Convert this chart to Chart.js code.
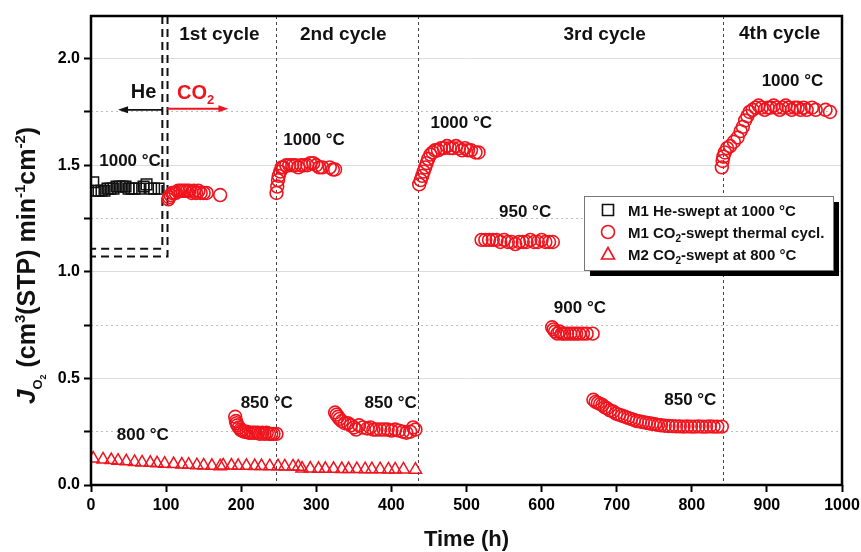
<!DOCTYPE html>
<html>
<head>
<meta charset="utf-8">
<script src="https://cdn.jsdelivr.net/npm/chart.js@4.4.1/dist/chart.umd.min.js"></script>
<style>
  html, body { margin: 0; padding: 0; background: #fff; }
</style>
</head>
<body>
<canvas id="chart" width="861" height="552"></canvas>
<script>
// M1 He-swept at 1000 °C (black squares)
const heTime = [3, 6, 10, 14, 18, 22, 26, 30, 34, 38, 42, 46, 50, 54, 58, 64, 70, 74, 80, 84, 90];
const heFlux = [1.42, 1.38, 1.38, 1.38, 1.38, 1.39, 1.39, 1.39, 1.40, 1.40, 1.40, 1.40, 1.39, 1.39, 1.39, 1.39, 1.40, 1.41, 1.39, 1.39, 1.39];

// M1 CO2-swept thermal cycling (red circles), one pair per stage
const cyc1HotTime = [103, 104, 106, 108, 110, 113, 116, 119, 122, 125, 128, 131, 134, 137, 140, 143, 146, 150, 154, 172];
const cyc1HotFlux = [1.34, 1.35, 1.36, 1.37, 1.37, 1.37, 1.38, 1.38, 1.38, 1.38, 1.38, 1.38, 1.37, 1.38, 1.37, 1.38, 1.37, 1.37, 1.37, 1.36];
const cyc1ColdTime = [192, 193, 194, 195, 197, 199, 201, 204, 207, 210, 213, 216, 219, 222, 225, 228, 231, 234, 237, 240, 243, 247];
const cyc1ColdFlux = [0.32, 0.30, 0.29, 0.28, 0.27, 0.26, 0.255, 0.25, 0.25, 0.245, 0.245, 0.245, 0.245, 0.245, 0.24, 0.245, 0.24, 0.245, 0.24, 0.24, 0.24, 0.24];
const cyc2HotTime = [247, 248, 249, 250, 252, 254, 256, 260, 264, 268, 272, 276, 280, 284, 288, 292, 296, 300, 304, 308, 318, 322, 325];
const cyc2HotFlux = [1.37, 1.40, 1.43, 1.45, 1.47, 1.49, 1.49, 1.50, 1.50, 1.50, 1.50, 1.49, 1.50, 1.50, 1.50, 1.51, 1.51, 1.50, 1.49, 1.49, 1.49, 1.48, 1.48];
const cyc2ColdTime = [325, 327, 329, 331, 334, 338, 342, 346, 350, 353, 357, 362, 368, 372, 376, 380, 385, 390, 395, 400, 405, 410, 415, 420, 425, 429, 432];
const cyc2ColdFlux = [0.34, 0.33, 0.32, 0.31, 0.30, 0.29, 0.29, 0.28, 0.27, 0.26, 0.28, 0.27, 0.265, 0.27, 0.26, 0.26, 0.26, 0.26, 0.26, 0.255, 0.26, 0.255, 0.25, 0.245, 0.25, 0.27, 0.26];
const cyc3HotTime = [437, 439, 441, 443, 445, 447, 449, 452, 455, 458, 462, 466, 470, 474, 478, 482, 486, 490, 494, 498, 502, 506, 512, 516];
const cyc3HotFlux = [1.41, 1.43, 1.45, 1.47, 1.49, 1.51, 1.53, 1.55, 1.56, 1.57, 1.57, 1.58, 1.58, 1.59, 1.58, 1.58, 1.59, 1.58, 1.57, 1.58, 1.57, 1.57, 1.56, 1.56];
const cyc3T950Time = [520, 525, 530, 535, 540, 545, 550, 555, 560, 565, 570, 575, 580, 585, 590, 595, 600, 605, 610, 615];
const cyc3T950Flux = [1.15, 1.15, 1.15, 1.15, 1.15, 1.14, 1.15, 1.14, 1.14, 1.13, 1.14, 1.14, 1.14, 1.15, 1.14, 1.14, 1.15, 1.14, 1.14, 1.14];
const cyc3T900Time = [614, 616, 618, 621, 624, 627, 630, 634, 638, 642, 646, 650, 655, 660, 668];
const cyc3T900Flux = [0.74, 0.73, 0.72, 0.71, 0.72, 0.71, 0.71, 0.71, 0.71, 0.71, 0.71, 0.71, 0.71, 0.71, 0.71];
const cyc3ColdTime = [669, 672, 675, 678, 681, 684, 687, 691, 695, 699, 703, 707, 711, 715, 719, 723, 727, 731, 735, 739, 743, 747, 751, 755, 759, 764, 769, 774, 779, 784, 789, 794, 799, 804, 809, 814, 819, 824, 829, 834, 840];
const cyc3ColdFlux = [0.40, 0.39, 0.385, 0.38, 0.375, 0.365, 0.36, 0.35, 0.345, 0.335, 0.33, 0.325, 0.32, 0.315, 0.31, 0.305, 0.30, 0.298, 0.295, 0.292, 0.29, 0.287, 0.285, 0.282, 0.28, 0.278, 0.277, 0.276, 0.275, 0.275, 0.274, 0.275, 0.274, 0.274, 0.275, 0.274, 0.274, 0.275, 0.274, 0.274, 0.274];
const cyc4HotTime = [840, 841, 842, 844, 847, 851, 856, 861, 865, 868, 871, 874, 877, 881, 885, 889, 893, 897, 901, 905, 909, 913, 917, 921, 925, 929, 933, 937, 941, 945, 949, 953, 960, 965, 978, 984];
const cyc4HotFlux = [1.49, 1.52, 1.54, 1.56, 1.58, 1.59, 1.61, 1.63, 1.66, 1.68, 1.71, 1.73, 1.75, 1.76, 1.77, 1.78, 1.77, 1.76, 1.77, 1.77, 1.78, 1.77, 1.76, 1.77, 1.78, 1.77, 1.76, 1.77, 1.77, 1.76, 1.77, 1.76, 1.77, 1.76, 1.76, 1.75];

// M2 CO2-swept at 800 °C (red triangles)
const m2Time = [3, 16, 27, 36, 47, 58, 68, 79, 88, 98, 110, 121, 130, 141, 150, 161, 172,
  176, 187, 196, 207, 218, 227, 238, 249, 258, 269, 276,
  281, 292, 303, 312, 323, 334, 343, 354, 365, 374, 385, 396, 405, 416, 432];
const m2Flux = [0.124, 0.12, 0.117, 0.114, 0.111, 0.108, 0.106, 0.104, 0.102, 0.1, 0.098, 0.096, 0.095, 0.093, 0.092, 0.09, 0.088,
  0.092, 0.091, 0.09, 0.09, 0.089, 0.089, 0.088, 0.088, 0.087, 0.087, 0.086,
  0.077, 0.077, 0.076, 0.076, 0.076, 0.075, 0.075, 0.075, 0.074, 0.074, 0.074, 0.073, 0.073, 0.073, 0.072];

// cycle boundaries (h) and He -> CO2 switch marks
const cycleLines = [246, 435, 841];
const switchInner = { x: 95, y: 1.108 };
const switchOuter = { x: 101.9, y: 1.072 };

const xTicks = [0, 100, 200, 300, 400, 500, 600, 700, 800, 900, 1000];

const RED = '#f0141e';
const FONT = "'Liberation Sans', Arial, sans-serif";

function pts(t, f) {
  return t.map((x, i) => ({ x, y: f[i] }));
}

const co2Points = [].concat(
  pts(cyc1HotTime, cyc1HotFlux), pts(cyc1ColdTime, cyc1ColdFlux),
  pts(cyc2HotTime, cyc2HotFlux), pts(cyc2ColdTime, cyc2ColdFlux),
  pts(cyc3HotTime, cyc3HotFlux), pts(cyc3T950Time, cyc3T950Flux),
  pts(cyc3T900Time, cyc3T900Flux), pts(cyc3ColdTime, cyc3ColdFlux),
  pts(cyc4HotTime, cyc4HotFlux)
);

// text labels anchored in data units
const notes = [
  { text: '1st cycle', x: 171, y: 2.113, size: 19 },
  { text: '2nd cycle', x: 336, y: 2.113, size: 19 },
  { text: '3rd cycle', x: 684, y: 2.113, size: 19 },
  { text: '4th cycle', x: 917, y: 2.118, size: 19 },
  { text: 'He', x: 70, y: 1.843, size: 20 },
  { text: '1000 °C', x: 52, y: 1.518, size: 17 },
  { text: '1000 °C', x: 297, y: 1.618, size: 17 },
  { text: '1000 °C', x: 493, y: 1.698, size: 17 },
  { text: '1000 °C', x: 934, y: 1.893, size: 17 },
  { text: '950 °C', x: 578, y: 1.278, size: 17 },
  { text: '900 °C', x: 651, y: 0.83, size: 17 },
  { text: '850 °C', x: 234, y: 0.385, size: 17 },
  { text: '850 °C', x: 399, y: 0.385, size: 17 },
  { text: '850 °C', x: 798, y: 0.399, size: 17 },
  { text: '800 °C', x: 69, y: 0.232, size: 17 },
];

function rich(ctx, parts, x, y, align) {
  const widths = parts.map((p) => { ctx.font = p.font; return ctx.measureText(p.t).width; });
  const total = widths.reduce((a, b) => a + b, 0);
  let cx = align === 'center' ? x - total / 2 : align === 'right' ? x - total : x;
  parts.forEach((p, i) => {
    ctx.font = p.font;
    ctx.fillText(p.t, cx, y + (p.dy || 0));
    cx += widths[i];
  });
}

function marker(ctx, type, x, y, color) {
  ctx.save();
  ctx.strokeStyle = color;
  ctx.lineWidth = 1.6;
  ctx.beginPath();
  if (type === 'rect') ctx.rect(x - 5.5, y - 5.5, 11, 11);
  else if (type === 'circle') ctx.arc(x, y, 6.5, 0, Math.PI * 2);
  else {
    ctx.moveTo(x, y - 6.5);
    ctx.lineTo(x + 6.5, y + 5);
    ctx.lineTo(x - 6.5, y + 5);
    ctx.closePath();
  }
  ctx.stroke();
  ctx.restore();
}

function arrow(ctx, x1, x2, y, color) {
  const dir = Math.sign(x2 - x1);
  ctx.save();
  ctx.strokeStyle = color;
  ctx.fillStyle = color;
  ctx.lineWidth = 1.8;
  ctx.beginPath();
  ctx.moveTo(x1, y);
  ctx.lineTo(x2 - dir * 6, y);
  ctx.stroke();
  ctx.beginPath();
  ctx.moveTo(x2, y);
  ctx.lineTo(x2 - dir * 10, y - 3.5);
  ctx.lineTo(x2 - dir * 10, y + 3.5);
  ctx.closePath();
  ctx.fill();
  ctx.restore();
}

const decorations = {
  id: 'decorations',
  beforeDatasetsDraw(chart) {
    const { ctx, chartArea: a, scales: { x, y } } = chart;
    ctx.save();
    // cycle boundaries
    ctx.strokeStyle = '#444';
    ctx.lineWidth = 1;
    ctx.setLineDash([3, 3]);
    cycleLines.forEach((h) => {
      const px = Math.round(x.getPixelForValue(h)) + 0.5;
      ctx.beginPath();
      ctx.moveTo(px, a.top);
      ctx.lineTo(px, a.bottom);
      ctx.stroke();
    });
    // He / CO2 switch: double dashed L-lines
    ctx.strokeStyle = '#111';
    ctx.lineWidth = 2;
    ctx.setLineDash([8, 5]);
    [switchInner, switchOuter].forEach((s) => {
      const px = x.getPixelForValue(s.x);
      const py = y.getPixelForValue(s.y);
      ctx.beginPath();
      ctx.moveTo(px, a.top);
      ctx.lineTo(px, py);
      ctx.lineTo(a.left, py);
      ctx.stroke();
    });
    ctx.restore();
  },
  afterDatasetsDraw(chart) {
    const { ctx, chartArea: a, scales: { x, y } } = chart;
    ctx.save();
    // frame
    ctx.strokeStyle = '#000';
    ctx.lineWidth = 2.5;
    ctx.strokeRect(a.left, a.top, a.right - a.left, a.bottom - a.top);

    // text notes
    ctx.fillStyle = '#111';
    ctx.textAlign = 'center';
    ctx.textBaseline = 'middle';
    notes.forEach((n) => {
      ctx.font = `bold ${n.size}px ${FONT}`;
      ctx.fillText(n.text, x.getPixelForValue(n.x), y.getPixelForValue(n.y));
    });

    // He <- | -> CO2 arrows
    arrow(ctx, x.getPixelForValue(95), x.getPixelForValue(36), y.getPixelForValue(1.76), '#111');
    arrow(ctx, x.getPixelForValue(101.5), x.getPixelForValue(183), y.getPixelForValue(1.765), RED);
    ctx.textAlign = 'left';
    ctx.textBaseline = 'alphabetic';
    ctx.fillStyle = RED;
    rich(ctx, [
      { t: 'CO', font: `bold 20px ${FONT}` },
      { t: '2', font: `bold 13px ${FONT}`, dy: 5 },
    ], x.getPixelForValue(114.5), y.getPixelForValue(1.845) + 7, 'left');

    // legend with shadow
    const lx = a.right - 258, ly = a.top + 180, lw = 249, lh = 74;
    ctx.fillStyle = '#000';
    ctx.fillRect(lx + 6, ly + 6, lw, lh);
    ctx.fillStyle = '#fff';
    ctx.fillRect(lx, ly, lw, lh);
    ctx.strokeStyle = '#777';
    ctx.lineWidth = 1;
    ctx.strokeRect(lx + 0.5, ly + 0.5, lw, lh);
    const rows = [
      { type: 'rect', color: '#111', parts: [{ t: 'M1 He-swept at 1000 °C' }] },
      { type: 'circle', color: RED, parts: [{ t: 'M1 CO' }, { t: '2', sub: true }, { t: '-swept thermal cycl.' }] },
      { type: 'triangle', color: RED, parts: [{ t: 'M2 CO' }, { t: '2', sub: true }, { t: '-swept at 800 °C' }] },
    ];
    rows.forEach((r, i) => {
      const ry = ly + 14 + i * 22;
      marker(ctx, r.type, lx + 24, ry, r.color);
      ctx.fillStyle = '#111';
      rich(ctx, r.parts.map((p) => ({
        t: p.t,
        font: p.sub ? `bold 10px ${FONT}` : `bold 15px ${FONT}`,
        dy: p.sub ? 4 : 0,
      })), lx + 44, ry + 5.5, 'left');
    });

    // axis titles
    ctx.fillStyle = '#111';
    ctx.font = `bold 22px ${FONT}`;
    ctx.textAlign = 'center';
    ctx.fillText('Time (h)', (a.left + a.right) / 2, 546);

    ctx.translate(26, (a.top + a.bottom) / 2 + 15);
    ctx.rotate(-Math.PI / 2);
    ctx.textAlign = 'left';
    const big = `bold 25px ${FONT}`;
    const sup = `bold 15px ${FONT}`;
    rich(ctx, [
      { t: 'J', font: `italic bold 26px ${FONT}` },
      { t: 'O', font: `bold 13px ${FONT}`, dy: 7 },
      { t: '2', font: `bold 9px ${FONT}`, dy: 11 },
      { t: ' (cm', font: big },
      { t: '3', font: sup, dy: -10 },
      { t: '(STP) min', font: big },
      { t: '-1', font: sup, dy: -10 },
      { t: 'cm', font: big },
      { t: '-2', font: sup, dy: -10 },
      { t: ')', font: big },
    ], 0, 9, 'center');
    ctx.restore();
  },
};

function isMajor(v) {
  return Math.abs(v * 2 - Math.round(v * 2)) < 1e-6;
}

new Chart(document.getElementById('chart'), {
  type: 'scatter',
  data: {
    datasets: [
      {
        label: 'M2 CO2-swept at 800 °C',
        data: pts(m2Time, m2Flux),
        pointStyle: 'triangle',
        pointRadius: 7,
        borderColor: RED,
        backgroundColor: 'rgba(0,0,0,0)',
        borderWidth: 1.5,
      },
      {
        label: 'M1 CO2-swept thermal cycl.',
        data: co2Points,
        pointStyle: 'circle',
        pointRadius: 6.4,
        borderColor: RED,
        backgroundColor: 'rgba(0,0,0,0)',
        borderWidth: 1.6,
      },
      {
        label: 'M1 He-swept at 1000 °C',
        data: pts(heTime, heFlux),
        pointStyle: 'rect',
        pointRadius: 7.5,
        borderColor: '#111',
        backgroundColor: 'rgba(0,0,0,0)',
        borderWidth: 1.5,
      },
    ],
  },
  options: {
    responsive: false,
    animation: false,
    devicePixelRatio: 1,
    layout: { padding: { left: 0, top: 16, right: 19, bottom: 0 } },
    plugins: { legend: { display: false }, tooltip: { enabled: false } },
    scales: {
      x: {
        type: 'linear',
        min: 0,
        max: 1000,
        afterFit: (s) => { s.height = 67; s.paddingLeft = 0; s.paddingRight = 0; },
        afterBuildTicks: (s) => { s.ticks = xTicks.map((v) => ({ value: v })); },
        ticks: {
          autoSkip: false,
          maxRotation: 0,
          padding: 4,
          color: '#000',
          font: { family: FONT, size: 16, weight: 'bold' },
          callback: (v) => String(v),
        },
        grid: { drawOnChartArea: false, tickLength: 7, tickWidth: 2, tickColor: '#000' },
        border: { display: false },
      },
      y: {
        min: 0,
        max: 2.2,
        afterFit: (s) => { s.width = 91; s.paddingTop = 0; s.paddingBottom = 0; },
        afterBuildTicks: (s) => { s.ticks = s.ticks.filter((t) => t.value <= 2.0001); },
        ticks: {
          stepSize: 0.25,
          padding: 4,
          color: '#000',
          font: { family: FONT, size: 16, weight: 'bold' },
          callback: (v) => (isMajor(v) ? v.toFixed(1) : ''),
        },
        grid: {
          color: (c) => (c.tick && !isMajor(c.tick.value) ? '#bdbdbd' : '#dcdcdc'),
          lineWidth: 1,
          tickLength: 7,
          tickWidth: 2,
          tickColor: '#000',
        },
        border: {
          display: false,
          dash: (c) => (c.tick && !isMajor(c.tick.value) ? [2, 3] : []),
        },
      },
    },
  },
  plugins: [decorations],
});
</script>
</body>
</html>
